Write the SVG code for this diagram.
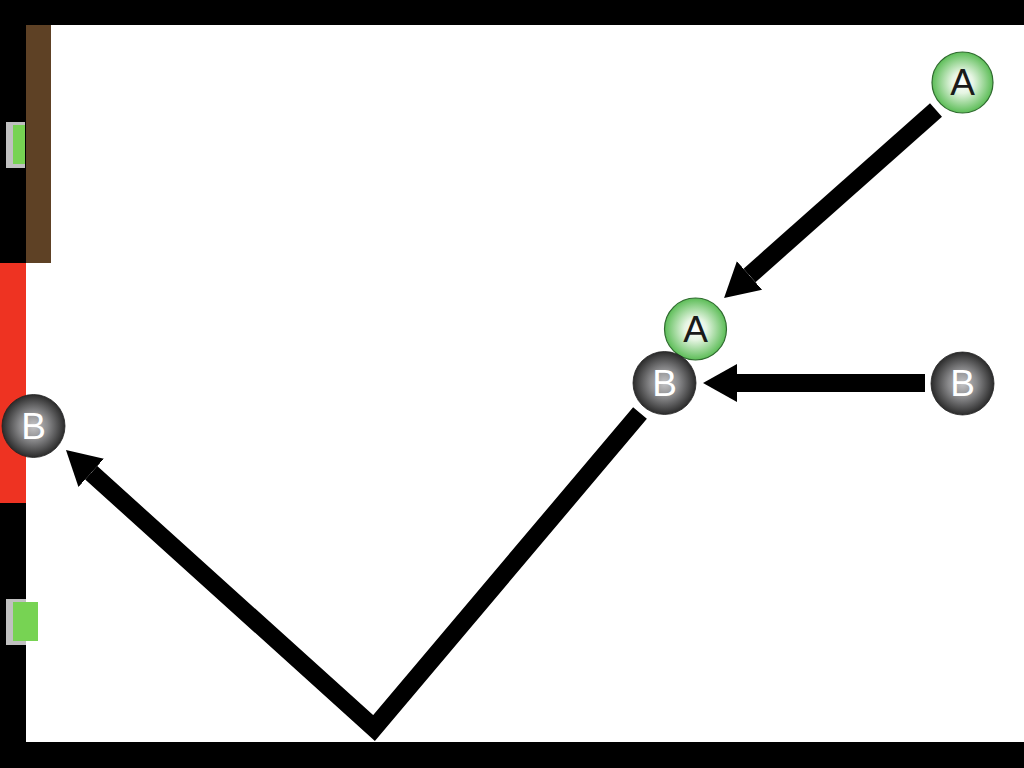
<svg xmlns="http://www.w3.org/2000/svg" width="1024" height="768" viewBox="0 0 1024 768">
<style>
.bar{fill:#000}
.conn{fill:none;stroke:#000;stroke-width:18;stroke-linejoin:miter;stroke-miterlimit:10}
.lbl{font-family:"Liberation Sans","DejaVu Sans",sans-serif;font-size:37px;text-anchor:middle;dominant-baseline:central}
.a circle{fill:url(#gA);stroke:#2f6b2f;stroke-width:1.2}
.a text{fill:#1a1a1a}
.b circle{fill:url(#gB);stroke:#222;stroke-width:0.8}
.b text{fill:#fff}
</style>
<defs>
<radialGradient id="gA" cx="0.5" cy="0.5" r="0.5">
<stop offset="0" stop-color="#ffffff"/>
<stop offset="0.35" stop-color="#e6f5e3"/>
<stop offset="1" stop-color="#5cbd57"/>
</radialGradient>
<radialGradient id="gB" cx="0.5" cy="0.5" r="0.5">
<stop offset="0" stop-color="#c4c4c6"/>
<stop offset="0.45" stop-color="#8a8a8c"/>
<stop offset="1" stop-color="#2a2a2a"/>
</radialGradient>
<marker id="ah" markerUnits="userSpaceOnUse" markerWidth="40" markerHeight="44" viewBox="0 -22 40 44" refX="0" refY="0" orient="auto">
<path d="M0,-19 L34,0 L0,19 Z" fill="#000"/>
</marker>
</defs>
<rect width="1024" height="768" fill="#fff"/>
<g id="frame">
<rect class="bar" x="0" y="0" width="1024" height="25"/>
<rect class="bar" x="0" y="742" width="1024" height="26"/>
<rect class="bar" x="0" y="0" width="26" height="768"/>
<rect x="26" y="25" width="25" height="238" fill="#5e4125"/>
<rect x="0" y="263" width="26" height="240" fill="#ee3322"/>
<rect x="6" y="122" width="19" height="46" fill="#c0c0c0"/>
<rect x="13" y="125" width="12" height="39" fill="#77d353"/>
<rect x="6" y="599" width="20" height="46" fill="#c0c0c0"/>
<rect x="13" y="602" width="25" height="39" fill="#77d353"/>
</g>
<g id="connectors">
<path class="conn" d="M936,110 L749.5,275.5" marker-end="url(#ah)"/>
<path class="conn" d="M925,383 L737,383" marker-end="url(#ah)"/>
<path class="conn" d="M640,413 L374,728 L91.2,472.8" marker-end="url(#ah)"/>
</g>
<g id="nodeA1" class="a"><circle cx="962.5" cy="82.5" r="30.5"/><text class="lbl" x="962.5" y="82.5">A</text></g>
<g id="nodeA2" class="a"><circle cx="695.5" cy="329" r="31"/><text class="lbl" x="695.5" y="329">A</text></g>
<g id="nodeB2" class="b"><circle cx="664.5" cy="383" r="31.5"/><text class="lbl" x="664.5" y="383">B</text></g>
<g id="nodeB1" class="b"><circle cx="962.5" cy="383.5" r="31.5"/><text class="lbl" x="962.5" y="383.5">B</text></g>
<g id="nodeB3" class="b"><circle cx="33.5" cy="426" r="31.5"/><text class="lbl" x="33.5" y="426">B</text></g>
</svg>
